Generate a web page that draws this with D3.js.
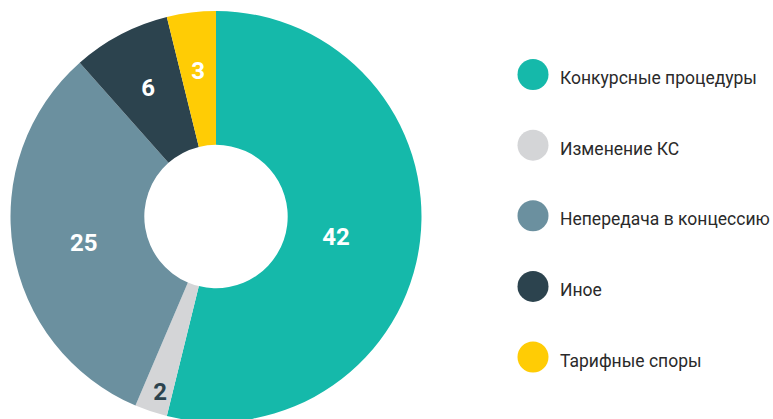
<!DOCTYPE html>
<html>
<head>
<meta charset="utf-8">
<script src="https://cdn.jsdelivr.net/npm/d3@7/dist/d3.min.js"></script>
<style>
  html, body { margin: 0; padding: 0; background: #fff; }
  svg { display: block; }
</style>
</head>
<body>
<svg id="chart" width="773" height="419"></svg>
<script>
// Categories and counts, in clockwise order starting at 12 o'clock
const categories = [
  "Конкурсные процедуры",
  "Изменение КС",
  "Непередача в концессию",
  "Иное",
  "Тарифные споры"
];
const values = [42, 2, 25, 6, 3];
const colors = ["#15B9AA", "#D4D5D7", "#6B909F", "#2C434E", "#FFCC05"];
const labelColors = ["#ffffff", "#2C434E", "#ffffff", "#ffffff", "#ffffff"];

const W = 773, H = 419;
const cx = 216, cy = 216.5;
const outerR = 205.5, innerR = 71.7;

// placement of each value label: distance from the centre plus a small nudge
const labelPlacement = new Map([
  ["Конкурсные процедуры", { r: 121, dx: 0, dy: 5 }],
  ["Изменение КС", { r: 184, dx: 2.5, dy: 0.5 }],
  ["Непередача в концессию", { r: 134, dx: 0, dy: 4 }],
  ["Иное", { r: 146, dx: 0, dy: 0 }],
  ["Тарифные споры", { r: 147.6, dx: 0, dy: 0 }]
]);

const data = categories.map((c, i) => ({ name: c, value: values[i], color: colors[i], labelColor: labelColors[i] }));

const svg = d3.select("#chart");

const pie = d3.pie().value(d => d.value).sort(null);
const arc = d3.arc().innerRadius(innerR).outerRadius(outerR);
const arcs = pie(data);

const g = svg.append("g").attr("transform", `translate(${cx},${cy})`);

g.selectAll("path.slice")
  .data(arcs)
  .join("path")
  .attr("class", "slice")
  .attr("d", arc)
  .attr("fill", d => d.data.color);

g.selectAll("text.val")
  .data(arcs)
  .join("text")
  .attr("class", "val")
  .attr("transform", d => {
    const pl = labelPlacement.get(d.data.name);
    const p = d3.arc().innerRadius(pl.r).outerRadius(pl.r).centroid(d);
    return `translate(${p[0] + pl.dx},${p[1] + pl.dy})`;
  })
  .attr("text-anchor", "middle")
  .attr("dy", "0.355em")
  .attr("font-family", "Roboto, 'Liberation Sans', sans-serif")
  .attr("font-weight", 700)
  .attr("font-size", 24)
  .attr("fill", d => d.data.labelColor)
  .text(d => d.data.value);

// Legend
const legendY = d3.scalePoint().domain(categories).range([74.5, 357]);
const legend = svg.append("g");
const items = legend.selectAll("g.item")
  .data(data)
  .join("g")
  .attr("class", "item")
  .attr("transform", d => `translate(533,${legendY(d.name)})`);

items.append("circle")
  .attr("r", 15.5)
  .attr("fill", d => d.color);

items.append("text")
  .attr("x", 27)
  .attr("y", 9.5)
  .attr("font-family", "Roboto, 'Liberation Sans', sans-serif")
  .attr("font-size", 17.5)
  .attr("fill", "#2a2a2a")
  .text(d => d.name);
</script>
</body>
</html>
